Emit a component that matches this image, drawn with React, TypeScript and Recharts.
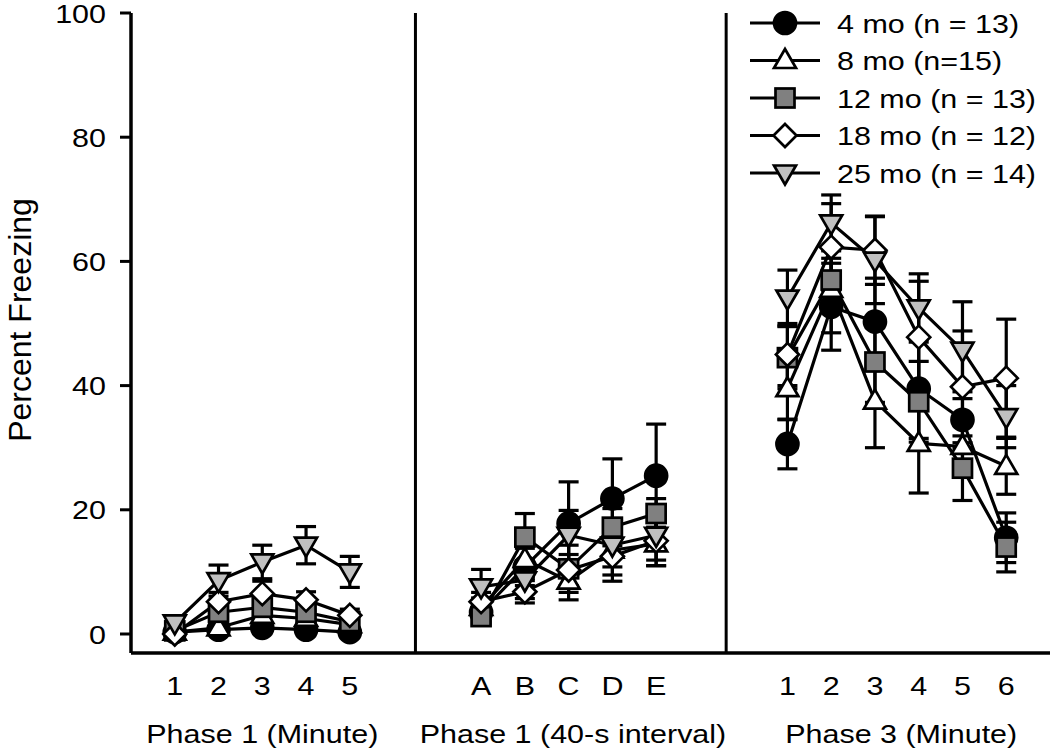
import React from 'react';
import { ComposedChart, Line, XAxis, YAxis, ErrorBar, ReferenceLine, Legend } from 'recharts';

// ---- Data ----
const phase1Labels = ['1', '2', '3', '4', '5'];
const phase2Labels = ['A', 'B', 'C', 'D', 'E'];
const phase3Labels = ['1', '2', '3', '4', '5', '6'];
const phaseTitles = ['Phase 1 (Minute)', 'Phase 1 (40-s interval)', 'Phase 3 (Minute)'];
const yTicks = [0, 20, 40, 60, 80, 100];

// values in order: phase 1 (5), phase 1 40-s (5), phase 3 (6)
const mo4Mean = [0.3, 0.7, 1.0, 0.7, 0.3, 3.5, 10.8, 17.8, 21.8, 25.5, 30.6, 52.7, 50.3, 39.5, 34.5, 15.5];
const mo4Sem = [0.4, 0.5, 0.7, 0.6, 0.4, 1.5, 3.0, 6.7, 6.4, 8.3, 4.0, 7.0, 7.0, 8.0, 4.5, 4.0];
const mo8Mean = [0.3, 1.0, 3.0, 2.5, 1.5, 4.3, 12.0, 8.5, 13.5, 14.5, 39.5, 55.5, 37.5, 30.7, 30.2, 27.0];
const mo8Sem = [0.5, 0.8, 1.5, 1.2, 0.8, 1.5, 3.0, 3.0, 5.0, 3.5, 5.0, 7.0, 7.5, 8.0, 4.0, 4.5];
const mo12Mean = [0.5, 3.5, 4.3, 3.5, 2.0, 2.8, 15.6, 10.5, 17.2, 19.4, 44.5, 57.0, 43.8, 37.4, 26.7, 14.0];
const mo12Sem = [0.5, 1.2, 1.5, 1.3, 1.0, 1.0, 3.8, 3.8, 3.0, 2.4, 5.0, 3.5, 6.5, 6.5, 5.2, 4.0];
const mo18Mean = [0.0, 5.2, 6.5, 5.5, 3.0, 5.2, 6.8, 10.3, 12.5, 15.0, 45.0, 62.3, 61.8, 47.8, 39.8, 41.2];
const mo18Sem = [0.5, 1.5, 2.0, 1.3, 1.0, 1.5, 1.8, 2.5, 3.0, 4.0, 5.0, 7.0, 5.5, 9.0, 9.0, 9.5];
const mo25Mean = [1.8, 8.6, 11.6, 14.3, 10.0, 7.6, 8.7, 15.9, 14.3, 15.9, 54.1, 66.2, 60.2, 52.5, 45.7, 35.0];
const mo25Sem = [0.8, 2.5, 2.7, 3.0, 2.5, 2.8, 3.0, 4.0, 3.5, 4.0, 4.5, 4.5, 7.0, 5.5, 7.8, 5.0];

const seriesNames = ['4 mo (n = 13)', '8 mo (n=15)', '12 mo (n = 13)', '18 mo (n = 12)', '25 mo (n = 14)'];

// ---- Styling ----
const FONT = '"Liberation Sans", Arial, sans-serif';
const SX = 1.15;
const FS = 26.5;

type Shape = 'circle' | 'triUp' | 'square' | 'diamond' | 'triDown';

const series: { key: string; name: string; shape: Shape; fill: string; mean: number[]; sem: number[] }[] = [
  { key: 'm4', name: seriesNames[0], shape: 'circle', fill: '#000000', mean: mo4Mean, sem: mo4Sem },
  { key: 'm8', name: seriesNames[1], shape: 'triUp', fill: '#ffffff', mean: mo8Mean, sem: mo8Sem },
  { key: 'm12', name: seriesNames[2], shape: 'square', fill: '#808080', mean: mo12Mean, sem: mo12Sem },
  { key: 'm18', name: seriesNames[3], shape: 'diamond', fill: '#ffffff', mean: mo18Mean, sem: mo18Sem },
  { key: 'm25', name: seriesNames[4], shape: 'triDown', fill: '#c0c0c0', mean: mo25Mean, sem: mo25Sem },
];

// ---- Build table ----
const panels = [phase1Labels, phase2Labels, phase3Labels];
const GAP = 2;
const rows: any[] = [];
const tickSlots: number[] = [];
const tickLabelMap: Record<number, string> = {};
const phaseCenters: number[] = [];
{
  let slot = 1;
  let idx = 0;
  panels.forEach((labels, p) => {
    if (p > 0) rows.push({ x: slot - GAP / 2 - 0.5 });
    const first = slot;
    labels.forEach((lab) => {
      const row: any = { x: slot };
      series.forEach((s) => {
        row[s.key] = s.mean[idx];
        row[s.key + 'E'] = s.sem[idx];
      });
      rows.push(row);
      tickSlots.push(slot);
      tickLabelMap[slot] = lab;
      slot += 1;
      idx += 1;
    });
    phaseCenters.push((first + slot - 1) / 2);
    slot += GAP;
  });
}
const PHASE_X = phaseCenters.map((c, i) => c + (i === 0 ? 0 : 0.1));
const SEPARATORS = [6.5, 13.6];

// ---- Helpers ----
const SText = ({ x, y, anchor = 'middle', size = FS, dy, children }: any) => (
  <text
    x={0}
    y={0}
    dy={dy}
    textAnchor={anchor}
    fontSize={size}
    fontFamily={FONT}
    fill="#000"
    transform={`translate(${x},${y}) scale(${SX},1)`}
  >
    {children}
  </text>
);

const Marker = ({ shape, cx, cy, fill }: any) => {
  if (cx == null || cy == null || isNaN(cx) || isNaN(cy)) return <g />;
  const sw = 2.7;
  switch (shape) {
    case 'circle':
      return <circle cx={cx} cy={cy} r={11} fill={fill} stroke="#000" strokeWidth={sw} />;
    case 'triUp':
      return (
        <polygon
          points={`${cx},${cy - 11.5} ${cx + 11},${cy + 7.5} ${cx - 11},${cy + 7.5}`}
          fill={fill}
          stroke="#000"
          strokeWidth={sw}
        />
      );
    case 'square':
      return <rect x={cx - 9.5} y={cy - 9.5} width={19} height={19} fill={fill} stroke="#000" strokeWidth={sw} />;
    case 'diamond':
      return (
        <polygon
          points={`${cx},${cy - 11.5} ${cx + 11.5},${cy} ${cx},${cy + 11.5} ${cx - 11.5},${cy}`}
          fill={fill}
          stroke="#000"
          strokeWidth={sw}
        />
      );
    case 'triDown':
    default:
      return (
        <polygon
          points={`${cx},${cy + 11.5} ${cx + 11},${cy - 7.5} ${cx - 11},${cy - 7.5}`}
          fill={fill}
          stroke="#000"
          strokeWidth={sw}
        />
      );
  }
};

const XTick = (props: any) => {
  const { x, y, payload } = props;
  return <SText x={x} y={y + 42}>{tickLabelMap[payload.value]}</SText>;
};

const PhaseTick = (props: any) => {
  const { x, y, index } = props;
  return <SText x={x} y={y + 35}>{phaseTitles[index]}</SText>;
};

const YTick = (props: any) => {
  const { x, y, payload } = props;
  return (
    <SText x={x} y={y} anchor="end" dy="0.36em">
      {payload.value}
    </SText>
  );
};

const YLabel = () => (
  <text
    x={0}
    y={0}
    transform={`translate(31,320) rotate(-90)`}
    textAnchor="middle"
    fontSize={32}
    fontFamily={FONT}
    fill="#000"
  >
    Percent Freezing
  </text>
);

const LegendContent = () => (
  <svg width={310} height={200} style={{ overflow: 'visible' }}>
    {series.map((s, i) => {
      const cy = 23 + i * 37.5;
      return (
        <g key={s.key}>
          <line x1={10} x2={80} y1={cy} y2={cy} stroke="#000" strokeWidth={3} />
          <Marker shape={s.shape} cx={45} cy={cy} fill={s.fill} />
          <SText x={97} y={cy} anchor="start" dy="0.36em">
            {s.name}
          </SText>
        </g>
      );
    })}
  </svg>
);

export default function App() {
  return (
    <div style={{ position: 'absolute', left: 0, top: 0, width: 1050, height: 752, background: '#fff', fontFamily: FONT }}>
      <ComposedChart width={1050} height={752} data={rows} margin={{ top: 13, right: 0, bottom: 0, left: 0 }}>
        <XAxis
          xAxisId="main"
          dataKey="x"
          type="number"
          domain={[0, 21]}
          allowDataOverflow
          ticks={tickSlots}
          interval={0}
          tickLine={false}
          tickSize={0}
          tickMargin={0}
          axisLine={{ stroke: '#000', strokeWidth: 3.5 }}
          height={55}
          tick={<XTick />}
        />
        <XAxis
          xAxisId="phase"
          dataKey="x"
          type="number"
          domain={[0, 21]}
          allowDataOverflow
          ticks={PHASE_X}
          interval={0}
          tickLine={false}
          tickSize={0}
          tickMargin={0}
          axisLine={false}
          height={44}
          tick={<PhaseTick />}
        />
        <YAxis
          type="number"
          domain={[-3.06, 100]}
          allowDataOverflow
          ticks={yTicks}
          interval={0}
          width={131}
          tickSize={11}
          tickMargin={14}
          axisLine={{ stroke: '#000', strokeWidth: 3.5 }}
          tickLine={{ stroke: '#000', strokeWidth: 3 }}
          tick={<YTick />}
          label={<YLabel />}
        />
        {SEPARATORS.map((sx) => (
          <ReferenceLine key={sx} x={sx} xAxisId="main" stroke="#000" strokeWidth={3} ifOverflow="visible" />
        ))}
        {series.map((s) => (
          <Line
            key={s.key}
            xAxisId="main"
            dataKey={s.key}
            name={s.name}
            type="linear"
            stroke="#000"
            strokeWidth={3.2}
            connectNulls={false}
            isAnimationActive={false}
            activeDot={false}
            dot={(p: any) => <Marker key={`${s.key}-${p.index}`} shape={s.shape} cx={p.cx} cy={p.cy} fill={s.fill} />}
          >
            <ErrorBar dataKey={s.key + 'E'} width={10} stroke="#000" strokeWidth={3.2} direction="y" />
          </Line>
        ))}
        <Legend
          layout="horizontal"
          verticalAlign="middle"
          align="center"
          content={<LegendContent />}
          wrapperStyle={{ left: 740, top: 0, width: 310, height: 200 }}
        />
      </ComposedChart>
    </div>
  );
}
